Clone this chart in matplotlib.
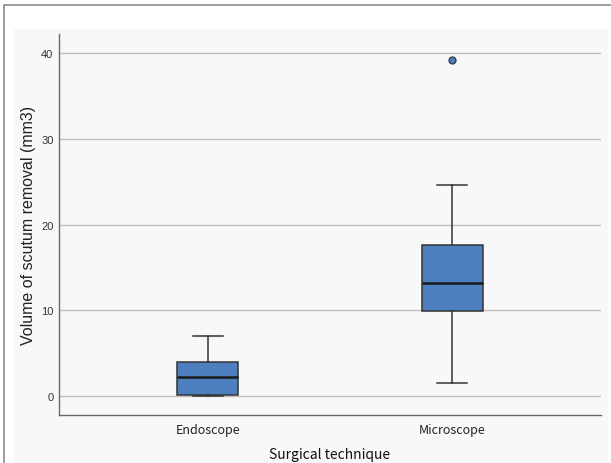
import matplotlib
matplotlib.use("Agg")
import matplotlib.pyplot as plt
from matplotlib.patches import Rectangle

# box plot summary (mm3)
groups = ["Endoscope", "Microscope"]
whisker_low = [0.05, 1.5]
q1 = [0.1, 9.9]
median = [2.25, 13.25]
q3 = [4.05, 17.6]
whisker_high = [7.0, 24.6]
outliers = [[], [39.15]]

yticks = [0, 10, 20, 30, 40]

box_color = "#4d7fbe"
edge_color = "#333333"

fig = plt.figure(figsize=(6.11, 4.64), dpi=100)

# outer frame and light panel behind the chart
fig.patches.append(Rectangle((4 / 611, -0.1), 1.2, 1 - 6 / 464 + 0.1,
                             transform=fig.transFigure, facecolor="white",
                             edgecolor="#8c8c8c", linewidth=1.2, zorder=-10))
fig.patches.append(Rectangle((14 / 611, 0), (608 - 14) / 611, 1 - 30 / 464,
                             transform=fig.transFigure, facecolor="#f8f8f8",
                             edgecolor="none", zorder=-9))

ax = fig.add_axes([59 / 611, 1 - 415.7 / 464, (601 - 59) / 611, (415.7 - 35) / 464])
ax.set_facecolor("none")

stats = []
for i, g in enumerate(groups):
    stats.append({
        "label": g,
        "whislo": whisker_low[i],
        "q1": q1[i],
        "med": median[i],
        "q3": q3[i],
        "whishi": whisker_high[i],
        "fliers": outliers[i],
    })

ax.bxp(stats, positions=[1, 2], widths=0.25, patch_artist=True,
       showfliers=True,
       boxprops=dict(facecolor=box_color, edgecolor=edge_color, linewidth=1.1),
       medianprops=dict(color="#1a1a1a", linewidth=1.8),
       whiskerprops=dict(color=edge_color, linewidth=1.1),
       capprops=dict(color=edge_color, linewidth=1.1),
       capwidths=0.125,
       flierprops=dict(marker="o", markersize=5, markerfacecolor=box_color,
                       markeredgecolor=edge_color, markeredgewidth=0.9))

ax.set_xlim(0.39, 2.61)
ax.set_ylim(-2.14, 42.18)
ax.set_yticks(yticks)
ax.set_yticklabels([str(t) for t in yticks], fontfamily="Liberation Sans",
                   fontsize=8, color="#333333")
ax.set_xticks([1, 2])
ax.set_xticklabels(groups, fontfamily="Noto Sans CJK SC", fontsize=9,
                   color="#222222")
ax.yaxis.grid(True, color="#c4bcbc", linewidth=1.0)
ax.set_axisbelow(True)

for s in ["top", "right"]:
    ax.spines[s].set_visible(False)
for s in ["left", "bottom"]:
    ax.spines[s].set_color("#6a6a6a")
    ax.spines[s].set_linewidth(1.0)

ax.tick_params(axis="both", length=0)
ax.tick_params(axis="y", pad=4)
ax.tick_params(axis="x", pad=6)

ax.set_ylabel("Volume of scutum removal (mm3)", fontsize=11.5,
              family="Liberation Sans", color="#222222", labelpad=4)
ax.set_xlabel("Surgical technique", fontsize=10, family="Noto Sans CJK SC",
              color="#111111", labelpad=8)

fig.savefig("out.png", dpi=100)
